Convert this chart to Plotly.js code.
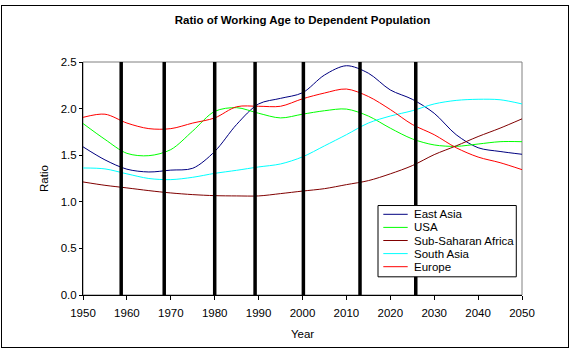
<!DOCTYPE html>
<html>
<head>
<meta charset="utf-8">
<script src="https://cdn.plot.ly/plotly-3.0.1.min.js"></script>
<style>
html,body{margin:0;padding:0;background:#fff;}
#wrap{position:relative;width:573px;height:353px;}
#chart{position:absolute;left:0;top:0;width:573px;height:353px;}
#frame{position:absolute;left:1px;top:5px;width:566px;height:341px;border:1px solid #000;pointer-events:none;}
</style>
</head>
<body>
<div id="wrap"><div id="chart"></div><div id="frame"></div></div>
<script>
const years = [1950,1955,1960,1965,1970,1975,1980,1985,1990,1995,2000,2005,2010,2015,2020,2025,2030,2035,2040,2045,2050];
const eastAsia = [1.59,1.45,1.35,1.32,1.34,1.36,1.54,1.83,2.05,2.11,2.17,2.36,2.46,2.38,2.20,2.10,1.95,1.72,1.58,1.54,1.51];
const usa = [1.84,1.67,1.52,1.495,1.56,1.76,1.97,2.01,1.95,1.90,1.94,1.977,1.995,1.92,1.79,1.675,1.61,1.595,1.62,1.645,1.645];
const subSaharan = [1.213,1.177,1.149,1.12,1.095,1.077,1.066,1.063,1.063,1.088,1.115,1.141,1.184,1.227,1.30,1.388,1.506,1.60,1.70,1.79,1.89];
const southAsia = [1.363,1.353,1.30,1.25,1.238,1.263,1.305,1.338,1.374,1.406,1.482,1.60,1.72,1.845,1.92,1.977,2.05,2.088,2.10,2.095,2.05];
const europe = [1.906,1.94,1.845,1.785,1.785,1.845,1.90,2.02,2.025,2.025,2.105,2.167,2.21,2.13,1.99,1.83,1.72,1.58,1.48,1.42,1.345];
const markerYears = [1958.7,1968.5,1980,1989.2,2000.2,2013.1,2025.8];

const seriesNames = ['East Asia','USA','Sub-Saharan Africa','South Asia','Europe'];
const seriesData = [eastAsia, usa, subSaharan, southAsia, europe];
const seriesColors = ['#000080','#00FF00','#800000','#00FFFF','#FF0000'];

const traces = seriesData.map((d,i)=>({
  x: years, y: d, type:'scatter', mode:'lines', name: seriesNames[i],
  line:{color:seriesColors[i], width:1, shape:'spline', smoothing:0.9},
  hoverinfo:'skip'
}));

const FONT = 'Liberation Sans, Arial, sans-serif';
const shapes = [];
// plot area border (gray)
shapes.push({type:'rect', xref:'paper', yref:'paper', x0:0, x1:1, y0:0, y1:1,
  line:{color:'#808080', width:1}, fillcolor:'rgba(0,0,0,0)', layer:'below'});
// vertical marker lines
markerYears.forEach(yr=>{
  shapes.push({type:'line', xref:'x', yref:'y', x0:yr, x1:yr, y0:-0.03, y1:2.51,
    line:{color:'#000', width:3.5}, layer:'above'});
});
// custom legend
const lgX0 = 0.672, lgX1 = 0.987, lgY0 = 0.078, lgY1 = 0.384;
shapes.push({type:'rect', xref:'paper', yref:'paper', x0:lgX0, x1:lgX1, y0:lgY0, y1:lgY1,
  line:{color:'#000', width:1}, fillcolor:'#fff', layer:'above'});
const annotations = [];
const rowPx = 13.1, firstRowPx = 214.3;
seriesNames.forEach((n,i)=>{
  const py = firstRowPx + i*rowPx;
  const yp = (295 - py)/233;
  shapes.push({type:'line', xref:'paper', yref:'paper', x0:(383.3-83)/439, x1:(407.7-83)/439, y0:yp, y1:yp,
    line:{color:seriesColors[i], width:1}, layer:'above'});
  annotations.push({xref:'paper', yref:'paper', x:(412-83)/439, y:yp, xanchor:'left', yanchor:'middle',
    text:n, showarrow:false, font:{family:FONT, size:11.5, color:'#000'}});
});

const layout = {
  width:573, height:353,
  margin:{l:83, r:51, t:62, b:58, pad:0},
  paper_bgcolor:'#fff', plot_bgcolor:'#fff',
  showlegend:false,
  title:{text:'<b>Ratio of Working Age to Dependent Population</b>', font:{family:FONT, size:11.5, color:'#000'},
    x:0.5, xref:'paper', y:0.943, yanchor:'middle'},
  xaxis:{range:[1950,2050], dtick:10, tick0:1950, showgrid:false, zeroline:false,
    showline:true, linecolor:'#000', linewidth:1, ticks:'outside', ticklen:4, tickcolor:'#000',
    ticklabelstandoff:3,
    tickfont:{family:FONT, size:11.5, color:'#000'},
    title:{text:'Year', font:{family:FONT, size:11.5, color:'#000'}, standoff:12}},
  yaxis:{range:[0,2.5], dtick:0.5, tick0:0, tickformat:'.1f', showgrid:false, zeroline:false,
    showline:true, linecolor:'#000', linewidth:1, ticks:'outside', ticklen:3, tickcolor:'#000',
    tickfont:{family:FONT, size:11.5, color:'#000'},
    title:{text:'Ratio', font:{family:FONT, size:11.5, color:'#000'}, standoff:9}},
  shapes: shapes,
  annotations: annotations
};
Plotly.newPlot('chart', traces, layout, {displayModeBar:false, staticPlot:true});
</script>
</body>
</html>
